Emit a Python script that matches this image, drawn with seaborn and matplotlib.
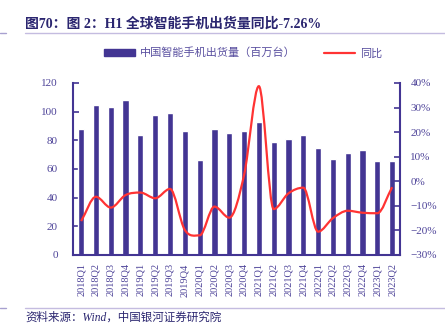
import numpy as np
import matplotlib
matplotlib.use("Agg")
import matplotlib.pyplot as plt
import seaborn as sns
from matplotlib.path import Path
from matplotlib.patches import PathPatch, Patch
from matplotlib.lines import Line2D

quarters = ["2018Q1", "2018Q2", "2018Q3", "2018Q4", "2019Q1", "2019Q2", "2019Q3", "2019Q4",
            "2020Q1", "2020Q2", "2020Q3", "2020Q4", "2021Q1", "2021Q2", "2021Q3", "2021Q4",
            "2022Q1", "2022Q2", "2022Q3", "2022Q4", "2023Q1", "2023Q2"]
shipments = [88, 104.7, 103, 108, 83.7, 98, 98.9, 86.3,
             66.5, 88, 85, 86.3, 92.6, 79, 81, 83.5,
             74.4, 67.2, 71.4, 73, 65.6, 65.6]
yoy = [-16.2, -6.3, -10.7, -5.6, -4.6, -6.9, -3.1, -19.8,
       -22.0, -10.3, -14.8, 2.5, 38.7, -11.3, -4.9, -2.6,
       -20.5, -15.0, -12.0, -12.8, -13.0, -2.4]
left_ticks = [0, 20, 40, 60, 80, 100, 120]
right_ticks = [-30, -20, -10, 0, 10, 20, 30, 40]
title = "图70：图 2：H1 全球智能手机出货量同比-7.26%"
legend_bar = "中国智能手机出货量（百万台）"
legend_line = "同比"
source = "资料来源：Wind，中国银河证券研究院"

sns.set_style("white")
plt.rcParams['font.family'] = ['Liberation Serif', 'Noto Sans CJK SC', 'DejaVu Sans']

BAR = "#433593"
RED = "#FF3333"
TXT = "#4e4499"
NAVY = "#2b2670"

fig = plt.figure(figsize=(4.45, 3.36), dpi=100)
ax = fig.add_axes([73/445, 1-255/336, (400-73)/445, (255-83)/336])

sns.barplot(x=quarters, y=shipments, color=BAR, saturation=1, width=0.42, ax=ax)
ax.set_xlim(-0.55, len(quarters) - 0.47)
ax.set_ylim(0, 120)
ax.set_yticks(left_ticks)
ax.set_ylabel("")
ax.set_xlabel("")

ax2 = ax.twinx()
ax2.set_ylim(-30, 40)
ax2.set_yticks(right_ticks)
ax2.set_yticklabels([f"{t}%" if t >= 0 else f"\u2212{-t}%" for t in right_ticks])

# smoothed line: cubic Bezier segments through the data points,
# flat tangents at local extremes
ys = np.array(yoy, dtype=float)
n = len(ys)
m = np.zeros(n)
for i in range(n):
    if i == 0:
        m[i] = ys[1] - ys[0]
    elif i == n - 1:
        m[i] = ys[-1] - ys[-2]
    else:
        d0 = ys[i] - ys[i - 1]
        d1 = ys[i + 1] - ys[i]
        m[i] = 0.0 if d0 * d1 <= 0 else (ys[i + 1] - ys[i - 1]) / 2.0
verts = [(0.0, ys[0])]
codes = [Path.MOVETO]
for i in range(n - 1):
    verts += [(i + 1/3, ys[i] + m[i] / 3), (i + 2/3, ys[i + 1] - m[i + 1] / 3), (i + 1.0, ys[i + 1])]
    codes += [Path.CURVE4] * 3
ax2.add_patch(PathPatch(Path(verts, codes), facecolor="none", edgecolor=RED, lw=1.6))

# spines and ticks
for a in (ax, ax2):
    for s in a.spines.values():
        s.set_visible(False)
ax.spines['left'].set_visible(True)
ax.spines['bottom'].set_visible(True)
ax2.spines['right'].set_visible(True)
for s in (ax.spines['left'], ax.spines['bottom'], ax2.spines['right']):
    s.set_color(BAR)
    s.set_linewidth(1.5)

ax.tick_params(axis='y', direction='in', length=4, width=1.2, color=BAR,
               labelcolor=TXT, labelsize=8, pad=11)
ax2.tick_params(axis='y', direction='in', length=4, width=1.2, color=BAR,
                labelcolor=TXT, labelsize=8, pad=7.5)
ax.set_xticks(range(len(quarters)))
ax.set_xticklabels(quarters, rotation=90, fontsize=7.5, color=TXT)
ax.tick_params(axis='x', which='major', length=0, pad=6)
ax.set_xticks(np.arange(len(quarters)) + 0.5, minor=True)
ax.tick_params(axis='x', which='minor', direction='in', length=3.5, width=1.2, color=BAR)
ax.grid(False)
ax2.grid(False)

# legend
handles = [Patch(facecolor=BAR, edgecolor=BAR), Line2D([0], [0], color=RED, lw=1.6)]
leg = fig.legend(handles, [legend_bar, legend_line], loc='center', ncol=2,
                 bbox_to_anchor=(243/445, 1-53/336), frameon=False,
                 handlelength=2.8, handleheight=0.55, columnspacing=2.5, handletextpad=0.45,
                 prop={'family': ['Noto Sans CJK SC'], 'size': 8})
for t in leg.get_texts():
    t.set_color("#5a50a0")

# title and decorations
fig.text(25/445, 1-24/336, title, fontsize=10, fontweight='bold', color=NAVY,
         va='center', ha='left', family=['Liberation Serif', 'Noto Sans CJK SC'])
fig.add_artist(Line2D([25/445, 1.0], [1-33/336, 1-33/336], color="#c4bce0", lw=1.0))
fig.add_artist(Line2D([0, 6/445], [1-33/336, 1-33/336], color="#a8a0d0", lw=1.0))
fig.add_artist(Line2D([25/445, 1.0], [1-308/336, 1-308/336], color="#c4bce0", lw=1.0))
fig.add_artist(Line2D([0, 6/445], [1-308/336, 1-308/336], color="#a8a0d0", lw=1.0))
fig.text(25/445, 1-318/336, source, fontsize=8.3, style='italic', color=NAVY,
         va='center', ha='left', family=['Liberation Serif', 'Noto Sans CJK SC'])

fig.savefig("out.png", dpi=100)
